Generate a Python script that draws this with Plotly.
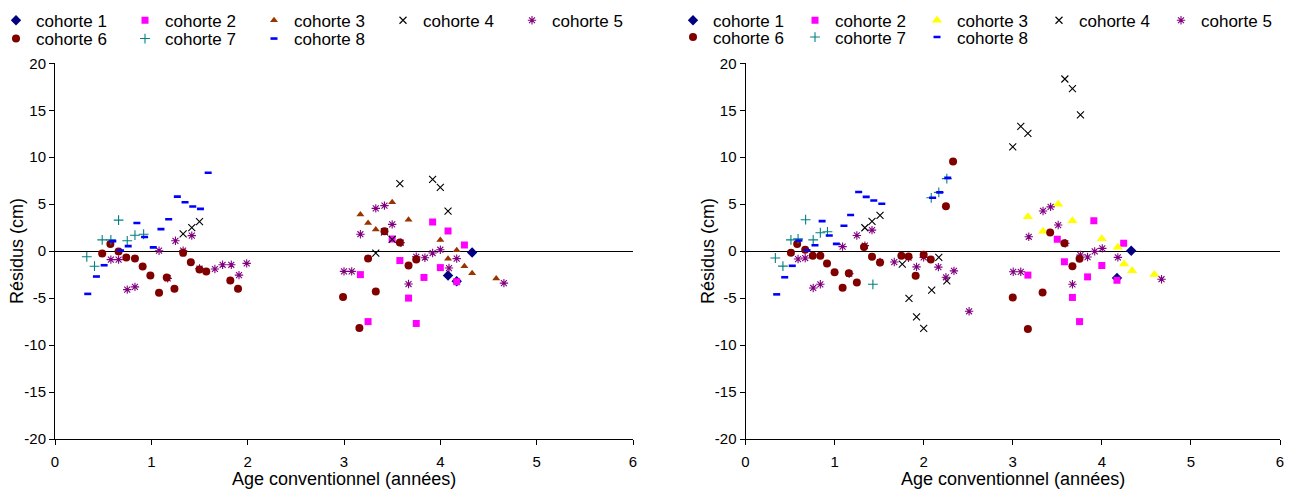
import plotly.graph_objects as go

# ---------------- data (left panel) ----------------
cohorts = ["cohorte 1", "cohorte 2", "cohorte 3", "cohorte 4",
           "cohorte 5", "cohorte 6", "cohorte 7", "cohorte 8"]

L1_x = [4.08, 4.17, 4.33]
L1_y = [-2.6, -3.2, -0.15]
L2_x = [3.17, 3.25, 3.50, 3.58, 3.67, 3.75, 3.83, 3.92, 4.00, 4.08, 4.17, 4.25]
L2_y = [-2.5, -7.5, 1.3, -1.0, -5.0, -7.7, -2.8, 3.1, -1.75, 2.15, -3.25, 0.65]
L3_x = [3.17, 3.25, 3.33, 3.50, 3.67, 4.00, 4.08, 4.17, 4.25, 4.33, 4.58]
L3_y = [3.9, 3.0, 2.3, 5.2, 3.35, 1.2, -0.8, 0.1, -1.6, -2.35, -2.9]
L4_x = [1.33, 1.42, 1.50, 3.33, 3.42, 3.50, 3.58, 3.92, 4.00, 4.08]
L4_y = [1.85, 2.5, 3.15, -0.2, 2.05, 1.25, 7.2, 7.65, 6.8, 4.25]
L5_x = [0.58, 0.66, 0.75, 0.83, 1.08, 1.17, 1.25, 1.33, 1.42, 1.50, 1.66, 1.74,
        1.83, 1.91, 1.99, 3.00, 3.08, 3.17, 3.33, 3.42, 3.50, 3.59, 3.67, 3.75,
        3.84, 3.92, 4.00, 4.09, 4.17, 4.66]
L5_y = [-0.9, -0.9, -4.1, -3.8, 0.05, -2.9, 1.1, 0.05, 1.65, -1.85, -1.9, -1.45,
        -1.45, -2.55, -1.3, -2.15, -2.15, 1.8, 4.55, 4.85, 2.85, 0.9, -3.5, -0.6,
        -0.7, -0.2, 0.15, -1.8, -0.8, -3.4]
L6_x = [0.49, 0.575, 0.66, 0.74, 0.83, 0.91, 0.99, 1.08, 1.16, 1.24, 1.33, 1.41,
        1.50, 1.57, 1.82, 1.90, 2.99, 3.16, 3.25, 3.33, 3.42, 3.58, 3.67, 3.75]
L6_y = [-0.25, 0.75, -0.03, -0.68, -0.78, -1.64, -2.6, -4.44, -2.8, -4.0, -0.18, -1.17,
        -1.96, -2.17, -3.13, -4.0, -4.87, -8.18, -0.78, -4.3, 2.13, 0.92, -1.53, -0.89]
L7_x = [0.33, 0.41, 0.49, 0.58, 0.66, 0.75, 0.83, 0.92]
L7_y = [-0.6, -1.6, 1.2, 1.2, 3.3, 1.1, 1.7, 1.8]
L8_x = [0.34, 0.43, 0.51, 0.60, 0.68, 0.76, 0.85, 0.93, 1.02, 1.10, 1.18, 1.27,
        1.35, 1.43, 1.51, 1.59]
L8_y = [-4.55, -2.7, -1.5, 1.07, 0.07, 0.53, 3.0, 1.5, 0.4, 2.35, 3.4, 5.8,
        5.2, 4.75, 4.5, 8.35]

# ---------------- data (right panel) ----------------
R1_x = [4.17, 4.33]
R1_y = [-2.85, 0.05]
R2_x = [3.17, 3.50, 3.58, 3.67, 3.75, 3.84, 3.91, 4.00, 4.17, 4.245]
R2_y = [-2.55, 1.27, -1.13, -4.93, -7.5, -2.74, 3.24, -1.53, -3.1, 0.84]
R3_x = [3.17, 3.34, 3.51, 3.67, 4.00, 4.18, 4.25, 4.34, 4.59]
R3_y = [3.67, 2.13, 5.0, 3.24, 1.31, 0.41, -1.38, -2.1, -2.49]
R4_x = [1.34, 1.42, 1.51, 1.76, 1.835, 1.92, 2.00, 2.09, 2.17, 2.26,
        3.00, 3.09, 3.17, 3.585, 3.67, 3.76]
R4_y = [2.49, 3.17, 3.82, -1.38, -5.03, -7.0, -8.23, -4.14, -0.66, -3.17,
        11.1, 13.28, 12.53, 18.33, 17.3, 14.5]
R5_x = [0.59, 0.67, 0.76, 0.84, 1.09, 1.165, 1.25, 1.34, 1.42, 1.51, 1.67, 1.83,
        1.92, 2.00, 2.165, 2.25, 2.34, 2.51, 3.005, 3.09, 3.18, 3.34, 3.425, 3.51,
        3.59, 3.67, 3.76, 3.84, 3.92, 4.005, 4.18, 4.67]
R5_y = [-0.84, -0.73, -3.92, -3.53, 0.48, -2.39, 1.67, 0.59, 2.24, -1.16, -1.16, -0.7,
        -1.67, -0.66, -1.7, -2.78, -2.1, -6.4, -2.2, -2.2, 1.53, 4.28, 4.71, 2.78,
        0.84, -3.53, -0.41, -0.63, -0.02, 0.3, -0.66, -2.99]
R6_x = [0.51, 0.58, 0.67, 0.755, 0.84, 0.915, 1.00, 1.09, 1.16, 1.25, 1.33, 1.42,
        1.51, 1.75, 1.83, 1.91, 2.00, 2.08, 2.25, 2.33, 3.00, 3.17, 3.335, 3.42,
        3.58, 3.67, 3.75]
R6_y = [-0.16, 0.77, 0.16, -0.48, -0.48, -1.31, -2.24, -3.9, -2.35, -3.35, 0.45, -0.59,
        -1.2, -0.48, -0.56, -2.63, -0.38, -0.88, 4.78, 9.55, -4.93, -8.3, -4.39, 1.99,
        0.84, -1.6, -0.81]
R7_x = [0.335, 0.42, 0.51, 0.59, 0.675, 0.76, 0.84, 0.92, 1.43, 2.085, 2.17, 2.26]
R7_y = [-0.73, -1.59, 1.2, 1.31, 3.35, 1.2, 1.96, 2.06, -3.53, 5.68, 6.26, 7.72]
R8_x = [0.35, 0.44, 0.525, 0.60, 0.69, 0.78, 0.86, 0.94, 1.02, 1.105, 1.18, 1.27,
        1.355, 1.44, 1.53, 2.10, 2.18, 2.27]
R8_y = [-4.6, -2.78, -1.56, 1.13, 0.09, 0.63, 3.2, 1.67, 0.77, 2.7, 3.85, 6.29,
        5.78, 5.4, 5.04, 5.68, 6.26, 7.8]

x_ticks = [0, 1, 2, 3, 4, 5, 6]
y_ticks = [-20, -15, -10, -5, 0, 5, 10, 15, 20]
y_ticktext = ["-20", "-15", "-10", "-5", "0", "5", "10", "15", "20"]
x_title = "Age conventionnel (années)"
y_title = "Résidus (cm)"

left_data = [(L1_x, L1_y), (L2_x, L2_y), (L3_x, L3_y), (L4_x, L4_y),
             (L5_x, L5_y), (L6_x, L6_y), (L7_x, L7_y), (L8_x, L8_y)]
right_data = [(R1_x, R1_y), (R2_x, R2_y), (R3_x, R3_y), (R4_x, R4_y),
              (R5_x, R5_y), (R6_x, R6_y), (R7_x, R7_y), (R8_x, R8_y)]

# ---------------- styles ----------------
def mstyle(i, panel):
    if i == 0:
        return dict(symbol="diamond", size=8, color="#000080")
    if i == 1:
        return dict(symbol="square", size=7, color="#FF00FF")
    if i == 2:
        if panel == 0:
            return dict(symbol="triangle-up", size=7, color="#993300")
        return dict(symbol="triangle-up", size=9, color="#FFFF00")
    if i == 3:
        return dict(symbol="x-thin-open", size=7, color="#000000",
                    line=dict(width=1.1, color="#000000"))
    if i == 4:
        return dict(symbol="asterisk-open", size=7, color="#800080",
                    line=dict(width=1.1, color="#800080"))
    if i == 5:
        return dict(symbol="circle", size=8, color="#800000")
    if i == 6:
        return dict(symbol="cross-thin-open", size=7, color="#008080",
                    line=dict(width=1.1, color="#008080"))
    return dict(symbol="line-ew-open", size=5, color="#0000FF",
                line=dict(width=2.6, color="#0000FF"))

W, H = 1301, 494
FONT = "Liberation Sans, Arial, sans-serif"

fig = go.Figure()
legend_names = [["legend", "legend2"], ["legend3", "legend4"]]
for panel, data in enumerate([left_data, right_data]):
    xa = "x" if panel == 0 else "x2"
    ya = "y" if panel == 0 else "y2"
    for i, (xs, ys) in enumerate(data):
        fig.add_trace(go.Scatter(
            x=xs, y=ys, mode="markers", name=cohorts[i],
            marker=mstyle(i, panel), xaxis=xa, yaxis=ya,
            legend=legend_names[panel][0 if i < 5 else 1],
        ))

x_dom = [[55 / W, 633 / W], [745.5 / W, 1280 / W]]
y_dom = [1 - 439 / H, 1 - 63.3 / H]

axis_common = dict(showline=True, linecolor="black", linewidth=1, ticks="outside",
                   ticklen=5, tickcolor="black", showgrid=False,
                   tickfont=dict(family=FONT, size=15, color="black"))

fig.update_layout(
    width=W, height=H, margin=dict(l=0, r=0, t=0, b=0, autoexpand=False),
    paper_bgcolor="white", plot_bgcolor="white",
    font=dict(family=FONT, color="black"),
    xaxis=dict(domain=x_dom[0], range=[0, 6], tickvals=x_ticks, zeroline=False,
               anchor="y", ticklabelstandoff=4, **axis_common),
    yaxis=dict(domain=y_dom, range=[-20, 20], tickvals=y_ticks, ticktext=y_ticktext,
               zeroline=True, zerolinecolor="black", zerolinewidth=1.2, anchor="x",
               **axis_common),
    xaxis2=dict(domain=x_dom[1], range=[0, 6], tickvals=x_ticks, zeroline=False,
                anchor="y2", ticklabelstandoff=4, **axis_common),
    yaxis2=dict(domain=y_dom, range=[-20, 20], tickvals=y_ticks, ticktext=y_ticktext,
                zeroline=True, zerolinecolor="black", zerolinewidth=1.2, anchor="x2",
                **axis_common),
)

leg_common = dict(orientation="h", xanchor="left", yanchor="middle",
                  bgcolor="rgba(0,0,0,0)", borderwidth=0,
                  font=dict(family=FONT, size=17, color="black"),
                  entrywidthmode="pixels", tracegroupgap=0)
fig.update_layout(
    legend=dict(x=-4 / W, y=1 - 20.7 / H, entrywidth=84, **leg_common),
    legend2=dict(x=-4 / W, y=1 - 39 / H, entrywidth=84, **leg_common),
    legend3=dict(x=673 / W, y=1 - 20.7 / H, entrywidth=77, **leg_common),
    legend4=dict(x=673 / W, y=1 - 37.5 / H, entrywidth=77, **leg_common),
)

# axis titles
for panel in range(2):
    cx = (x_dom[panel][0] + x_dom[panel][1]) / 2
    fig.add_annotation(text=x_title, x=cx, y=1 - 479 / H, xref="paper", yref="paper",
                       showarrow=False, xanchor="center", yanchor="middle",
                       font=dict(family=FONT, size=18, color="black"))
    fig.add_annotation(text=y_title, x=(17 if panel == 0 else 708) / W, y=1 - 251 / H,
                       xref="paper", yref="paper", textangle=-90,
                       showarrow=False, xanchor="center", yanchor="middle",
                       font=dict(family=FONT, size=18, color="black"))

fig.write_html("out.html")
